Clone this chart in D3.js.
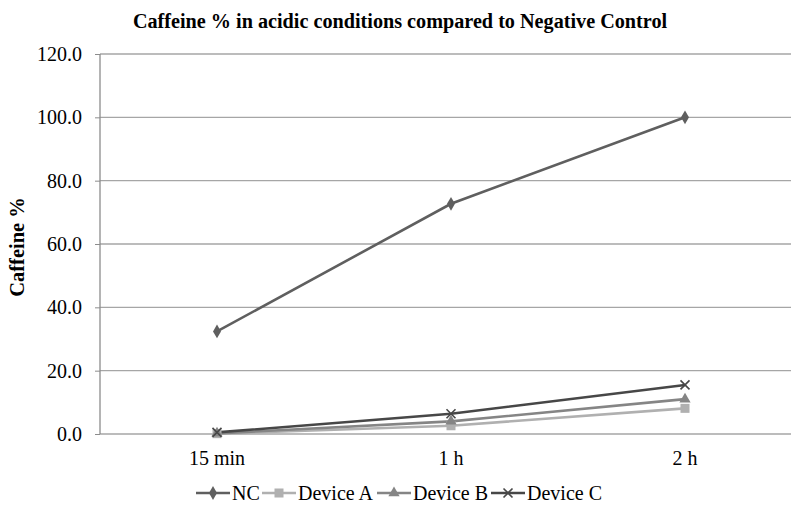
<!DOCTYPE html>
<html><head><meta charset="utf-8">
<script src="https://cdn.jsdelivr.net/npm/d3@7"></script>
<style>body{margin:0;background:#fff}svg{display:block}</style>
</head><body>
<svg id="c" width="791" height="508"></svg>
<script>
const categories = ["15 min", "1 h", "2 h"];
const seriesNames = ["NC", "Device A", "Device B", "Device C"];
const ncValues = [32.4, 72.7, 100.0];
const deviceAValues = [0.1, 2.6, 8.1];
const deviceBValues = [0.2, 4.0, 11.0];
const deviceCValues = [0.5, 6.4, 15.5];
const yTicks = [0, 20, 40, 60, 80, 100, 120];

const FONT = "'Liberation Serif', 'Times New Roman', Times, 'DejaVu Serif', serif";

const series = [
  {name: seriesNames[0], values: ncValues, color: "#5f5f5f", marker: "diamond"},
  {name: seriesNames[1], values: deviceAValues, color: "#b0b0b0", marker: "square"},
  {name: seriesNames[2], values: deviceBValues, color: "#858585", marker: "triangle"},
  {name: seriesNames[3], values: deviceCValues, color: "#474747", marker: "x"}
];

const svg = d3.select("#c").attr("font-family", FONT);
const L = 100, R = 802, T = 54, B = 434;
const x = d3.scaleBand().domain(categories).range([L, R]);
const y = d3.scaleLinear().domain([0, 120]).range([B, T]);
const cx = c => x(c) + x.bandwidth() / 2;

svg.append("g").selectAll("line").data(yTicks).join("line")
  .attr("x1", L).attr("x2", 791).attr("y1", d => y(d)).attr("y2", d => y(d))
  .attr("stroke", "#a6a6a6").attr("stroke-width", 1.3);

const yAxis = d3.axisLeft(y).tickValues(yTicks).tickFormat(d3.format(".1f")).tickSize(5).tickPadding(13);
const ga = svg.append("g").attr("transform", `translate(${L},0)`).call(yAxis).attr("font-family", FONT).attr("font-size", 20);
ga.select(".domain").remove();
ga.selectAll("line").attr("stroke", "#8c8c8c");
ga.selectAll("text").attr("fill", "#000");
svg.append("line").attr("x1", L).attr("x2", L).attr("y1", T).attr("y2", B).attr("stroke", "#8c8c8c").attr("stroke-width", 1.3);

const xAxis = d3.axisBottom(x).tickSize(0).tickPadding(17);
const gx = svg.append("g").attr("transform", `translate(0,${B})`).call(xAxis).attr("font-family", FONT).attr("font-size", 20);
gx.select(".domain").remove();
gx.selectAll("text").attr("fill", "#000");

function marker(g, type, color) {
  if (type === "diamond") g.append("path").attr("d", d3.symbol(d3.symbolDiamond, 55)()).attr("fill", color);
  else if (type === "square") g.append("rect").attr("x", -4.5).attr("y", -4.5).attr("width", 9).attr("height", 9).attr("fill", color);
  else if (type === "triangle") g.append("path").attr("d", d3.symbol(d3.symbolTriangle, 55)()).attr("fill", color);
  else g.append("path").attr("d", "M-4.5,-4.5L4.5,4.5M-4.5,4.5L4.5,-4.5").attr("stroke", color).attr("stroke-width", 1.6).attr("fill", "none");
}

const line = d3.line().x((d, i) => cx(categories[i])).y(d => y(d));
const order = [1, 2, 3, 0];
order.forEach(k => {
  const s = series[k];
  svg.append("path").attr("d", line(s.values)).attr("fill", "none").attr("stroke", s.color).attr("stroke-width", 2.6);
});
order.forEach(k => {
  const s = series[k];
  s.values.forEach((v, i) => {
    const g = svg.append("g").attr("transform", `translate(${cx(categories[i])},${y(v)})`);
    marker(g, s.marker, s.color);
  });
});

svg.append("text").attr("x", 400).attr("y", 28).attr("text-anchor", "middle")
  .attr("font-size", 20.2).attr("font-weight", "bold").text("Caffeine % in acidic conditions compared to Negative Control");

svg.append("text").attr("transform", "translate(24,247) rotate(-90)").attr("text-anchor", "middle")
  .attr("font-size", 20.5).attr("font-weight", "bold").text("Caffeine %");

const legX = [196, 262, 377, 491];
const legY = 493;
series.forEach((s, i) => {
  const g = svg.append("g").attr("transform", `translate(${legX[i]},${legY})`);
  g.append("line").attr("x1", 0).attr("x2", 34).attr("stroke", s.color).attr("stroke-width", 2.6);
  const m = g.append("g").attr("transform", "translate(17,0)");
  marker(m, s.marker, s.color);
  g.append("text").attr("x", 36).attr("y", 7).attr("font-size", 20).text(s.name);
});
</script>
</body></html>
